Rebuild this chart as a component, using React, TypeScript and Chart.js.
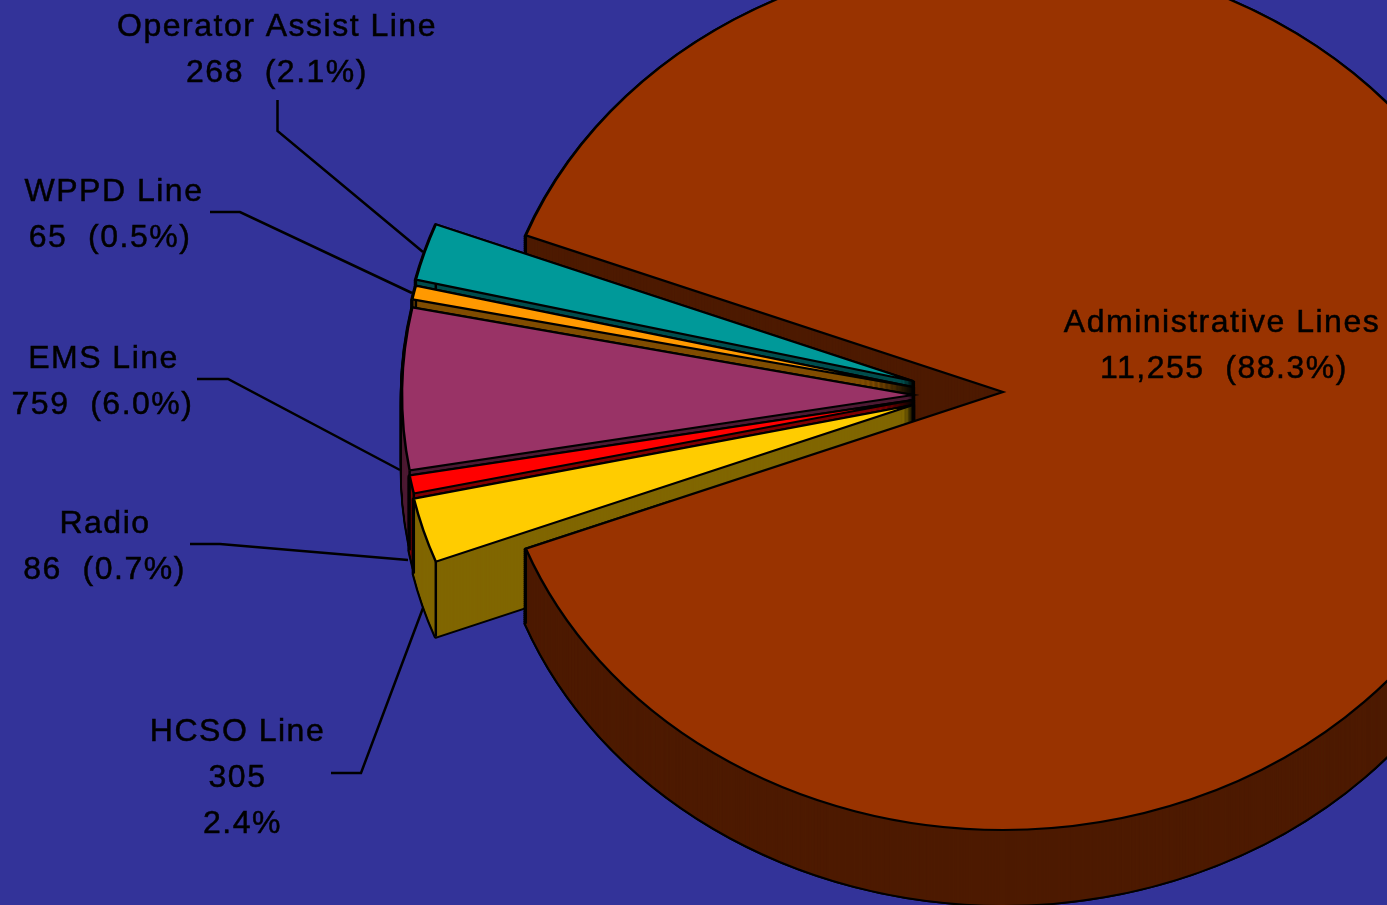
import React, { useEffect, useRef } from "react";
import { Chart, registerables } from "chart.js";

Chart.register(...registerables);

const categories = ["Administrative Lines", "HCSO Line", "Radio", "EMS Line", "WPPD Line", "Operator Assist Line"];
const values = [11255, 305, 86, 759, 65, 268];
const valueTexts = ["11,255", "305", "86", "759", "65", "268"];
const percentTexts = ["88.3%", "2.4%", "0.7%", "6.0%", "0.5%", "2.1%"];
const faceColors = ["#993300", "#ffcc00", "#ff0000", "#993366", "#ff9900", "#009999"];
const wallColors = ["#4d1a00", "#806600", "#800000", "#4d1a33", "#804d00", "#004d4d"];

// Layout of the drawing
const WIDTH = 1387;
const HEIGHT = 905;
const CX = 1003;
const CY = 392;
const RADIUS = 511;
const TILT = 438 / 511;
const DEPTH = 75;
const EXPLODE_X = -90;
const EXPLODE_Y = [0, 13, 8, 3, -5, -11];
const LINE = 2.5;
const FONT = '32px "Liberation Sans", Arial, sans-serif';

// x-centre and baseline of each text line; text index follows categories
const TEXT_LAYOUT = [
  [{ x: 1222, y: 332 }, { x: 1224, y: 378 }],
  [{ x: 237.5, y: 741 }, { x: 237.5, y: 787 }, { x: 242.5, y: 833 }],
  [{ x: 105, y: 533 }, { x: 104.5, y: 579 }],
  [{ x: 103.5, y: 368 }, { x: 102.5, y: 414 }],
  [{ x: 114, y: 201 }, { x: 110, y: 247 }],
  [{ x: 277, y: 36 }, { x: 277, y: 82 }],
];
const LEADERS = [
  [[331, 773], [361, 773], [423, 608]],
  [[190, 544], [220, 544], [408, 560]],
  [[197, 379], [228, 379], [400, 470]],
  [[210, 212], [240, 212], [412, 293]],
  [[277.5, 100], [277.5, 131], [423, 252]],
];

function drawArc(ctx: any, arc: any, dx: number, dy: number, over: any) {
  const saved = arc.options;
  arc.options = Object.assign(Object.create(saved), over);
  ctx.save();
  ctx.translate(arc.x + dx, arc.y + dy);
  ctx.scale(1, TILT);
  ctx.translate(-arc.x, -arc.y);
  arc.draw(ctx);
  ctx.restore();
  arc.options = saved;
}

function drawWall(ctx: any, arc: any, i: number) {
  const dx = i === 0 ? 0 : EXPLODE_X;
  const dy = EXPLODE_Y[i];
  for (let d = DEPTH; d >= 0; d -= 2) {
    drawArc(ctx, arc, dx, dy + d, {
      backgroundColor: "#000",
      borderColor: "#000",
      borderWidth: 4.5,
      borderJoinStyle: "round",
    });
  }
  for (let d = DEPTH; d >= 0; d -= 1) {
    drawArc(ctx, arc, dx, dy + d, {
      backgroundColor: wallColors[i],
      borderColor: wallColors[i],
      borderWidth: 0,
    });
  }
  ctx.strokeStyle = "#000";
  ctx.lineWidth = LINE;
  for (const a of [arc.startAngle, arc.endAngle]) {
    const x = arc.x + dx + arc.outerRadius * Math.cos(a);
    const y = arc.y + dy + arc.outerRadius * TILT * Math.sin(a);
    ctx.beginPath();
    ctx.moveTo(x, y);
    ctx.lineTo(x, y + DEPTH);
    ctx.stroke();
  }
  ctx.beginPath();
  ctx.moveTo(arc.x + dx, arc.y + dy);
  ctx.lineTo(arc.x + dx, arc.y + dy + DEPTH);
  ctx.stroke();
}

function drawFace(ctx: any, arc: any, i: number) {
  drawArc(ctx, arc, i === 0 ? 0 : EXPLODE_X, EXPLODE_Y[i], {
    backgroundColor: faceColors[i],
    borderColor: "#000",
    borderWidth: LINE,
    borderJoinStyle: "miter",
  });
}

const pie3d = {
  id: "pie3d",
  beforeDatasetsDraw(chart: any) {
    const ctx = chart.ctx;
    const arcs = chart.getDatasetMeta(0).data;
    drawWall(ctx, arcs[0], 0);
    for (let i = arcs.length - 1; i >= 1; i--) {
      drawWall(ctx, arcs[i], i);
      drawFace(ctx, arcs[i], i);
    }
    // the near part of the large slice's wall stands in front of the exploded slices
    ctx.save();
    ctx.beginPath();
    ctx.rect(0, 500, WIDTH, HEIGHT - 500);
    ctx.clip();
    drawWall(ctx, arcs[0], 0);
    ctx.restore();
    drawFace(ctx, arcs[0], 0);

    // leader lines
    ctx.strokeStyle = "#000";
    ctx.lineWidth = LINE;
    ctx.lineJoin = "miter";
    for (const pts of LEADERS) {
      ctx.beginPath();
      pts.forEach((p, n) => (n ? ctx.lineTo(p[0], p[1]) : ctx.moveTo(p[0], p[1])));
      ctx.stroke();
    }

    // labels
    ctx.font = FONT;
    ctx.fillStyle = "#000";
    ctx.strokeStyle = "#000";
    ctx.lineWidth = 0.5;
    ctx.textAlign = "center";
    ctx.textBaseline = "alphabetic";
    ctx.letterSpacing = "1.5px";
    categories.forEach((name, i) => {
      const lay = TEXT_LAYOUT[i];
      const lines = lay.length === 3
        ? [name, valueTexts[i], percentTexts[i]]
        : [name, `${valueTexts[i]}  (${percentTexts[i]})`];
      lines.forEach((t, n) => {
        ctx.fillText(t, lay[n].x, lay[n].y);
        ctx.strokeText(t, lay[n].x, lay[n].y);
      });
    });
    ctx.letterSpacing = "0px";
    return false;
  },
};

export default function App() {
  const ref = useRef<HTMLCanvasElement>(null);
  useEffect(() => {
    document.body.style.margin = "0";
    const total = values.reduce((a, b) => a + b, 0);
    const chart = new Chart(ref.current!, {
      type: "pie",
      data: {
        labels: categories,
        datasets: [{ data: values, backgroundColor: faceColors, borderColor: "#000", borderWidth: LINE }],
      },
      options: {
        responsive: false,
        animation: false,
        radius: RADIUS,
        rotation: 90 - ((values[0] / total) * 360) / 2,
        layout: { padding: { left: 2 * CX - WIDTH, bottom: HEIGHT - 2 * CY } },
        plugins: { legend: { display: false }, tooltip: { enabled: false } },
      } as any,
      plugins: [pie3d as any],
    });
    return () => chart.destroy();
  }, []);
  return (
    <div style={{ position: "fixed", left: 0, top: 0, width: WIDTH, height: HEIGHT, overflow: "hidden", background: "#333399" }}>
      <canvas ref={ref} width={WIDTH} height={HEIGHT} style={{ display: "block" }} />
    </div>
  );
}
